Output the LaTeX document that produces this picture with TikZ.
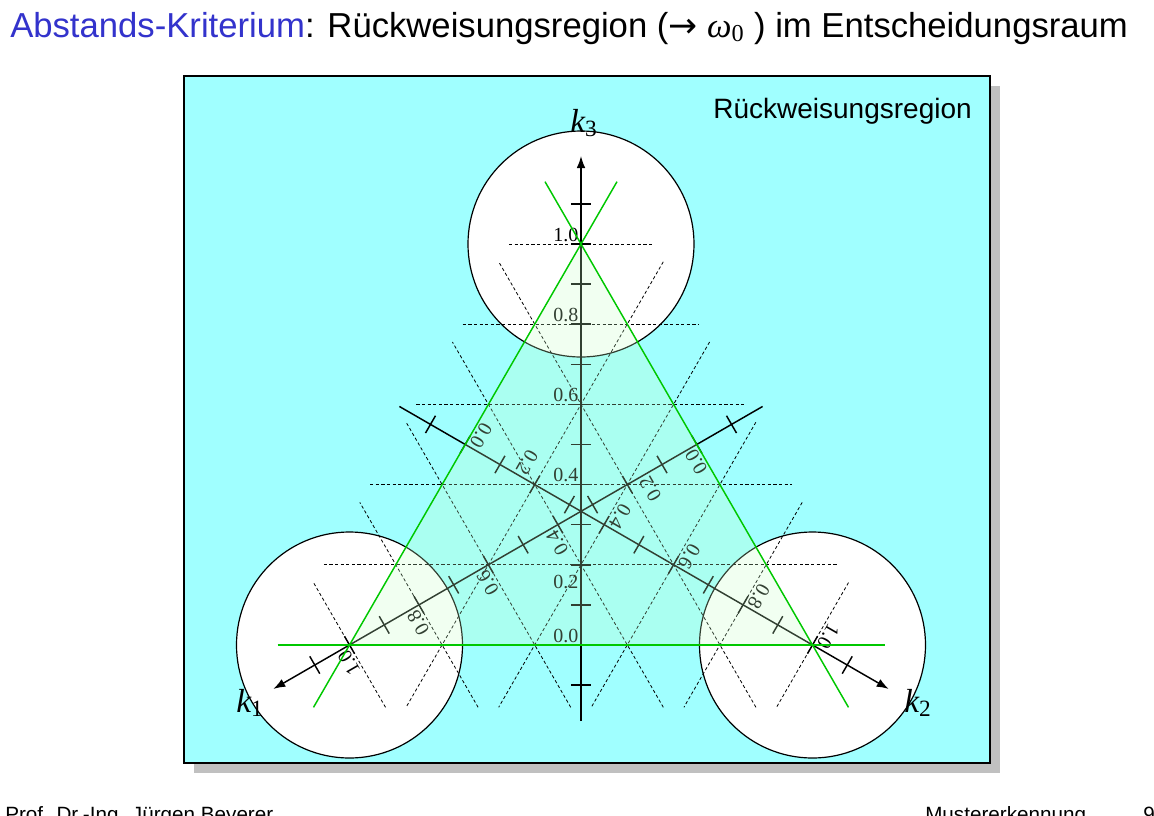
\documentclass[tikz,border=0pt]{standalone}
\usepackage{fontspec}
\setmainfont{Liberation Sans}
\setsansfont{Liberation Sans}
\newfontfamily\tms{Liberation Serif}
\newfontfamily\arrowfont{DejaVu Sans}
\usetikzlibrary{arrows.meta,calc}

\begin{document}
\begin{tikzpicture}[>={Latex[length=9pt,width=6.5pt]}, x=0.75pt, y=-0.75pt, font=\sffamily,
    gridline/.style={black, line width=0.6pt, dash pattern=on 2.4pt off 1.8pt},
    axisline/.style={black, line width=1.1pt},
    tickmark/.style={black, line width=1.1pt},
    ticklabel/.style={anchor=south east, inner sep=1.8pt, font=\tms\fontsize{15}{15}\selectfont},
    sideline/.style={green, line width=1.1pt},
    axislabel/.style={anchor=base west, inner sep=0pt, font=\tms\itshape\fontsize{25}{25}\selectfont}]
  \definecolor{panel}{HTML}{A0FFFF}
  \definecolor{shadow}{HTML}{C0C0C0}
  \definecolor{titleblue}{HTML}{3333CC}
  \definecolor{green}{HTML}{00C800}
  \definecolor{mint}{HTML}{C8FFC8}
  \useasboundingbox (0,0) rectangle (1154,815);
  \fill[white] (0,0) rectangle (1154,815);
  \node[anchor=base west, inner sep=0pt, font=\fontsize{26}{26}\selectfont] (title) at (10,37)
    {\textcolor{titleblue}{Abstands-Kriterium}: Rückweisungsregion ({\arrowfont →} {\tms\itshape ω}\textsubscript{\tms 0} ) im Entscheidungsraum};
  \fill[shadow] (194,86) rectangle (1000,773);
  \draw[fill=panel, line width=1.1pt] (184,76) rectangle (990,763);
  \coordinate (V1) at (349.5,645);
  \coordinate (V2) at (812.5,645);
  \coordinate (V3) at (581,244);
  \coordinate (O) at (581,511.3);
  \draw[fill=white, line width=0.9pt] (V3) circle [radius=84.75pt];
  \draw[fill=white, line width=0.9pt] (V1) circle [radius=84.75pt];
  \draw[fill=white, line width=0.9pt] (V2) circle [radius=84.75pt];
  \node[anchor=base east, inner sep=0pt, font=\fontsize{21}{21}\selectfont] (region) at (972,118) {Rückweisungsregion};
  \foreach \rot/\ax in {0/3,120/1,-120/2} {
    \begin{scope}[rotate around={\rot:(O)}]
      \foreach \v in {0.2,0.4,0.6,0.8,1.0}
        \draw[gridline] ({581-231.5*(1-\v)-72},{645-401*\v}) -- ({581+231.5*(1-\v)+72},{645-401*\v});
      \draw[axisline, ->] (581,721) -- (581,156);
      \foreach \i in {-1,...,11}
        \draw[tickmark] (571,{645-40.1*\i}) -- (591,{645-40.1*\i});
      \foreach \v/\dy [count=\n] in {0.0/0,0.2/27,0.4/0,0.6/0,0.8/0,1.0/0}
        \node[ticklabel, transform shape] (k\ax-\n) at (581,{645-401*\v+\dy}) {\v};
    \end{scope}
  }
  \fill[mint, opacity=0.25] (V1) -- (V2) -- (V3) -- cycle;
  \draw[sideline] ($(V1)!-54pt!(V2)$) -- ($(V2)!-54pt!(V1)$);
  \draw[sideline] ($(V2)!-54pt!(V3)$) -- ($(V3)!-54pt!(V2)$);
  \draw[sideline] ($(V3)!-54pt!(V1)$) -- ($(V1)!-54pt!(V3)$);
  \node[axislabel] (k3) at (570,132) {k\textsubscript{\upshape 3}};
  \node[axislabel] (k1) at (236,712) {k\textsubscript{\upshape 1}};
  \node[axislabel] (k2) at (904,712) {k\textsubscript{\upshape 2}};
  \node[anchor=base west, inner sep=0pt, font=\fontsize{15.5}{15.5}\selectfont] (author) at (5,821) {Prof. Dr.-Ing. Jürgen Beyerer};
  \node[anchor=base west, inner sep=0pt, font=\fontsize{15.5}{15.5}\selectfont] (course) at (925,821) {Mustererkennung};
  \node[anchor=base west, inner sep=0pt, font=\fontsize{15.5}{15.5}\selectfont] (page) at (1143,821) {9};
\end{tikzpicture}
\end{document}
